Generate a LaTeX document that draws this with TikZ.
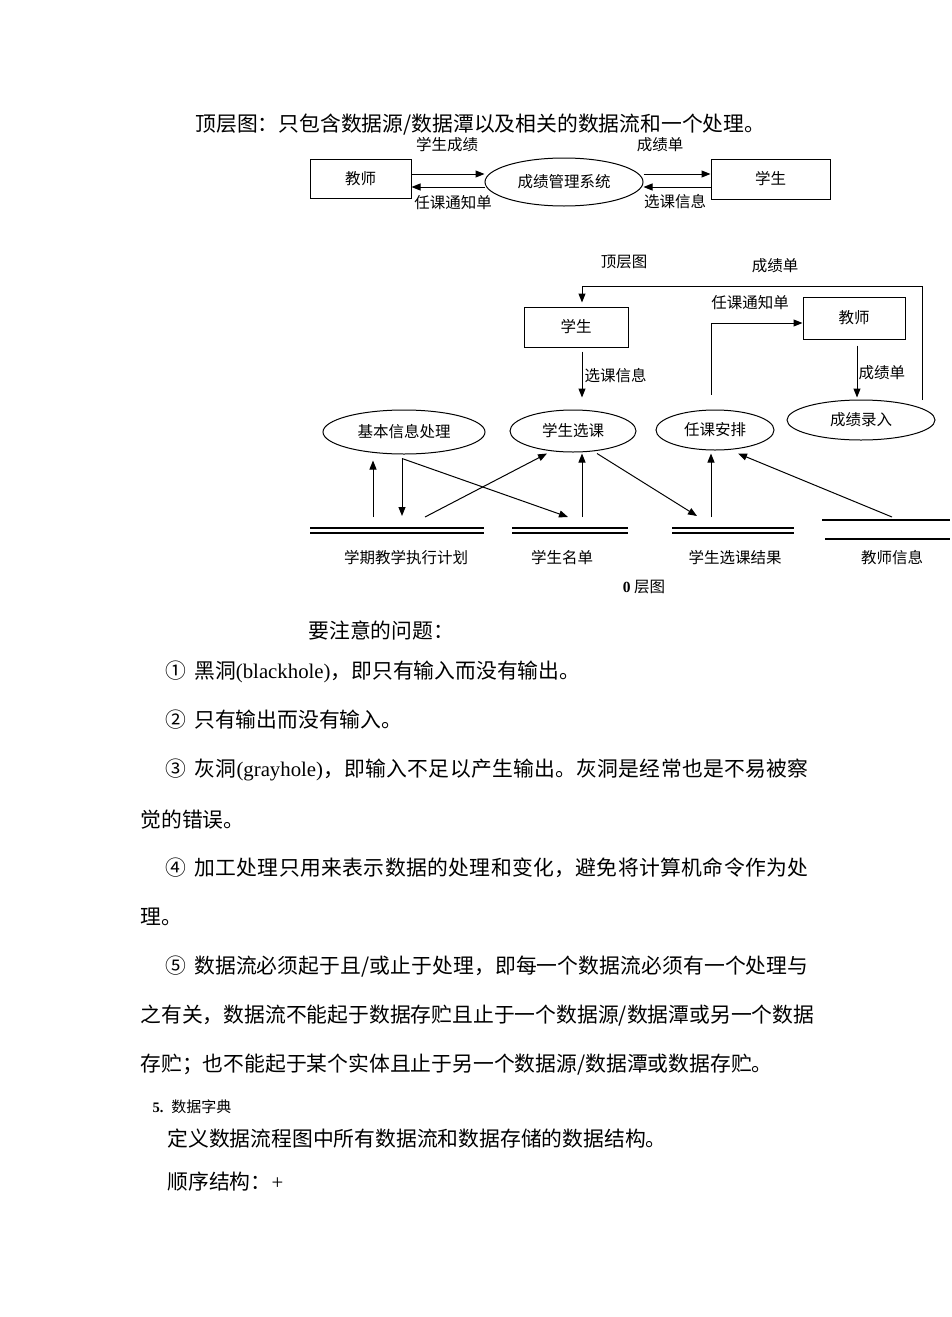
\documentclass[tikz,border=0pt]{standalone}
\usepackage{fontspec}
\setmainfont{Liberation Serif}
\newfontfamily\cjk{Noto Sans CJK SC}
\usetikzlibrary{arrows.meta,shapes.geometric}
\newcommand\jend{}
\def\jstep#1{\ifx#1\jend\else#1\hskip0pt plus 1fil\relax\expandafter\jstep\fi}
\newcommand\jline[2]{\hbox to #1{\jstep #2\jend\unskip}}
\newcommand\ghole{{\rmfamily (grayhole)}}
\begin{document}
\begin{tikzpicture}[x=1pt,y=-1pt,line width=1pt,
  body/.style={anchor=west,inner sep=0pt,font=\cjk\fontsize{20.8}{24}\selectfont},
  lbl/.style={inner sep=0pt,font=\cjk\fontsize{15.5}{18}\selectfont},
  box/.style={draw,rectangle,inner sep=0pt,font=\cjk\fontsize{15.5}{18}\selectfont},
  proc/.style={draw,ellipse,inner sep=0pt,font=\cjk\fontsize{15.5}{18}\selectfont},
  arr/.style={-{Triangle[length=9pt,width=7pt]}},
  store/.style={line width=1.1pt}]
\fill[white] (0,0) rectangle (950,1317);

% ---------- title ----------
\node[body] (h0) at (195,125) {顶层图：只包含数据源/数据潭以及相关的数据流和一个处理。};

% ---------- top-level diagram ----------
\node[box,minimum width=101pt,minimum height=39pt] (T) at (360.5,178.5) {教师};
\node[proc,minimum width=158pt,minimum height=48pt] (E) at (564,182) {成绩管理系统};
\node[box,minimum width=119pt,minimum height=40pt] (S) at (770.5,179) {学生};
\coordinate (t1) at ([yshift=4.5pt]T.east);
\coordinate (t2) at ([yshift=-8.5pt]T.east);
\coordinate (s1) at ([yshift=5pt]S.west);
\coordinate (s2) at ([yshift=-8pt]S.west);
\draw[arr] (t1) -- (t1 -| E.west);
\draw[arr] (t2 -| E.west) -- (t2);
\draw[arr] (s1 -| E.east) -- (s1);
\draw[arr] (s2) -- (s2 -| E.east);
\node[lbl] (l1) at (447,145) {学生成绩};
\node[lbl] (l2) at (453,203) {任课通知单};
\node[lbl] (l3) at (660,145) {成绩单};
\node[lbl] (l4) at (675,202) {选课信息};

% ---------- level-0 diagram ----------
\node[lbl] (m0) at (624,262) {顶层图};
\node[lbl] (m1) at (775,266) {成绩单};
\node[box,minimum width=104pt,minimum height=40pt] (S2) at (576,327) {学生};
\node[box,minimum width=102pt,minimum height=42pt] (T2) at (854,318) {教师};
\node[proc,minimum width=162pt,minimum height=44pt] (P1) at (404,432) {基本信息处理};
\node[proc,minimum width=126pt,minimum height=42pt] (P2) at (573,431) {学生选课};
\node[proc,minimum width=118pt,minimum height=40pt] (P3) at (715,430) {任课安排};
\node[proc,minimum width=148pt,minimum height=40pt] (P4) at (861,420) {成绩录入};

\coordinate (c1) at (922,400);
\coordinate (c2) at (582,286);
\draw[arr] (c1) |- (c2) -- ([xshift=6pt,yshift=4pt]S2.north);
\draw[arr] ([xshift=6pt,yshift=-4pt]S2.south) -- ([xshift=9pt,yshift=12pt]P2.north);
\node[lbl,anchor=west] (m2) at (584,376) {选课信息};
\coordinate (c3) at ([xshift=-4pt,yshift=15pt]P3.north);
\draw[arr] (c3) |- ([yshift=-5pt]T2.west);
\node[lbl] (m3) at (750,303) {任课通知单};
\draw[arr] ([xshift=3pt,yshift=-6pt]T2.south) -- ([xshift=-4pt,yshift=2pt]P4.north);
\node[lbl,anchor=west] (m4) at (858,373) {成绩单};

% data stores
\draw[store] (310,528) -- (484,528) (310,533) -- (484,533);
\draw[store] (512,528) -- (628,528) (512,533) -- (628,533);
\draw[store] (672,528) -- (794,528) (672,533) -- (794,533);
\draw[store] (822,520) -- (950,520);
\draw[line width=2.6pt] (825,539) -- (950,539);
\node[lbl] (d1) at (406,558) {学期教学执行计划};
\node[lbl] (d2) at (562,558) {学生名单};
\node[lbl] (d3) at (735,558) {学生选课结果};
\node[lbl] (d4) at (892,558) {教师信息};
\node[lbl] (z0) at (644,587) {{\rmfamily\bfseries 0} 层图};

\coordinate (b1) at (373,517);
\coordinate (b2) at (402,516);
\coordinate (b3) at (568,517);
\coordinate (b4) at (425,517);
\coordinate (b5) at (582,517);
\coordinate (b6) at (697,516);
\coordinate (b7) at (711,517);
\coordinate (b8) at (892,517);
\draw[arr] (b1) -- ([xshift=-31pt,yshift=-6pt]P1.south);
\draw[arr] ([xshift=-2pt,yshift=-4pt]P1.south) -- (b2);
\draw[arr] ([xshift=-2pt,yshift=-4pt]P1.south) -- (b3);
\draw[arr] (b4) -- ([xshift=-26pt,yshift=-1pt]P2.south);
\draw[arr] (b5) -- ([xshift=9pt,yshift=-1pt]P2.south);
\draw[arr] ([xshift=24pt,yshift=-1pt]P2.south) -- (b6);
\draw[arr] (b7) -- ([xshift=-4pt,yshift=-3pt]P3.south);
\draw[arr] (b8) -- ([xshift=23pt,yshift=-3pt]P3.south);

% ---------- body text ----------
\node[body] (h1) at (308,630) {要注意的问题：};
\node[body] (p1) at (165,672) {①\hspace{8pt}黑洞{\rmfamily (blackhole)}，即只有输入而没有输出。};
\node[body] (p2) at (165,720) {②\hspace{8pt}只有输出而没有输入。};
\node[body] (p3) at (165,770) {\hbox to 643pt{③\hspace{8pt}\jstep 灰洞\ghole，即输入不足以产生输出。灰洞是经常也是不易被察\jend\unskip}};
\node[body] (p3b) at (140,820) {觉的错误。};
\node[body] (p4) at (165,868) {\hbox to 643pt{④\hspace{8pt}\jstep 加工处理只用来表示数据的处理和变化，避免将计算机命令作为处\jend\unskip}};
\node[body] (p4b) at (140,917) {理。};
\node[body] (p5) at (165,967) {\hbox to 643pt{⑤\hspace{8pt}\jstep 数据流必须起于且/或止于处理，即每一个数据流必须有一个处理与\jend\unskip}};
\node[body] (p5b) at (140,1016) {\jline{672pt}{之有关，数据流不能起于数据存贮且止于一个数据源/数据潭或另一个数据}};
\node[body] (p5c) at (140,1065) {存贮；也不能起于某个实体且止于另一个数据源/数据潭或数据存贮。};
\node[anchor=west,inner sep=0pt] (s5) at (152,1107) {{\rmfamily\bfseries\fontsize{14.5}{16}\selectfont 5.}\hspace{8pt}{\cjk\fontsize{15}{18}\selectfont 数据字典}};
\node[body] (s5a) at (167,1139) {定义数据流程图中所有数据流和数据存储的数据结构。};
\node[body] (s5b) at (167,1182) {顺序结构：{\rmfamily +}};
\end{tikzpicture}
\end{document}
